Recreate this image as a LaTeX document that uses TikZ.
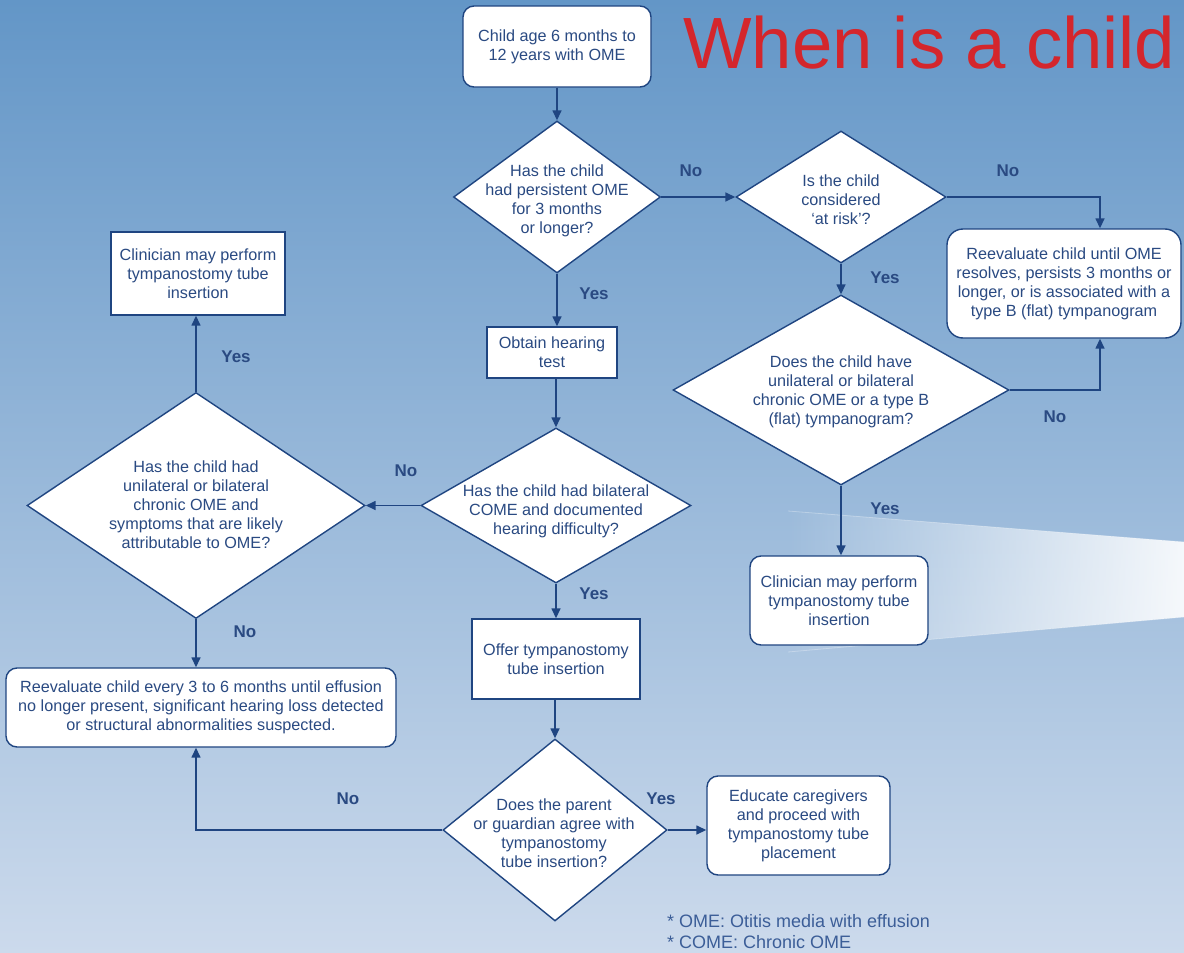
\documentclass[tikz,border=0pt]{standalone}
\usepackage{fontspec}
\setmainfont{Liberation Sans}
\usetikzlibrary{shapes.geometric,arrows.meta,fadings}
\definecolor{bgtop}{HTML}{6396C7}
\definecolor{bgbot}{HTML}{CCDAEC}
\definecolor{lc}{HTML}{1F4581}
\definecolor{tc}{HTML}{2A4A82}
\definecolor{fn}{HTML}{3C5E98}
\definecolor{ttl}{HTML}{D4262C}
\tikzfading[name=beamfade, left color=transparent!100, middle color=transparent!90, right color=transparent!10]
\begin{document}
\begin{tikzpicture}[x=1pt,y=-1pt,
  nodefont/.style={font=\fontsize{16.2}{19}\selectfont},
  boxst/.style={draw=lc, fill=white, line width=1.4pt, text=tc, align=center, inner sep=0pt, nodefont},
  rboxst/.style={boxst, rounded corners=11pt},
  diast/.style={diamond, draw=lc, fill=white, line width=1.4pt, inner sep=0pt},
  dtext/.style={text=tc, align=center, inner sep=0pt, nodefont},
  lbl/.style={text=tc, font=\fontsize{17}{17}\selectfont\bfseries, inner sep=0pt},
  arr/.style={draw=lc, line width=1.5pt, -{Triangle[length=10pt,width=9pt]}},
  ]
\useasboundingbox (0,0) rectangle (1184,953);
\shade[top color=bgtop, bottom color=bgbot] (0,0) rectangle (1184,953);
% light beam
\fill[white, path fading=beamfade] (788,511) -- (1184,542) -- (1184,617) -- (788,652) -- cycle;
\draw[white, opacity=0.3, line width=0.8pt] (788,511) -- (1184,542);
\draw[white, opacity=0.3, line width=0.8pt] (788,652) -- (1184,617);
% title
\node[anchor=base west, text=ttl, font=\fontsize{72.6}{72}\selectfont, inner sep=0pt] (title) at (683,68) {When is a child};

% nodes
\node[rboxst, minimum width=188pt, minimum height=81pt] (start) at (557,46.5) {Child age 6 months to\\12 years with OME};
\node[diast, minimum width=207pt, minimum height=152pt] (d1) at (557,197) {};
\node[dtext] (d1t) at (557,201) {Has the child\\had persistent OME\\for 3 months\\or longer?};
\node[diast, minimum width=210pt, minimum height=132pt] (d2) at (841,197) {};
\node[dtext] (d2t) at (841,200) {Is the child\\considered\\‘at risk’?};
\node[boxst, rounded corners=16pt, minimum width=234pt, minimum height=109pt] (r1) at (1064,283.5) {Reevaluate child until OME\\resolves, persists 3 months or\\longer, or is associated with a\\type B (flat) tympanogram};
\node[diast, minimum width=336pt, minimum height=190pt] (d3) at (841,390) {};
\node[dtext] (d3t) at (841,392) {Does the child have\\unilateral or bilateral\\chronic OME or a type B\\(flat) tympanogram?};
\node[rboxst, minimum width=178pt, minimum height=89pt] (r2) at (839,600.5) {Clinician may perform\\tympanostomy tube\\insertion};
\node[boxst, minimum width=130pt, minimum height=51pt] (hear) at (552,352.5) {Obtain hearing\\test};
\node[diast, minimum width=270pt, minimum height=155pt] (d4) at (556,505.5) {};
\node[dtext] (d4t) at (556,511) {Has the child had bilateral\\COME and documented\\hearing difficulty?};
\node[diast, minimum width=338pt, minimum height=226pt] (d5) at (196,505.5) {};
\node[dtext] (d5t) at (196,505) {Has the child had\\unilateral or bilateral\\chronic OME and\\symptoms that are likely\\attributable to OME?};
\node[boxst, minimum width=174pt, minimum height=83pt] (l1) at (198,273.5) {Clinician may perform\\tympanostomy tube\\insertion};
\node[rboxst, minimum width=390pt, minimum height=79pt] (l2) at (201,707.5) {Reevaluate child every 3 to 6 months until effusion\\no longer present, significant hearing loss detected\\or structural abnormalities suspected.};
\node[boxst, minimum width=168pt, minimum height=80pt] (offer) at (556,659) {Offer tympanostomy\\tube insertion};
\node[diast, minimum width=224pt, minimum height=182pt] (d6) at (555,830) {};
\node[dtext] (d6t) at (554,833) {Does the parent\\or guardian agree with\\tympanostomy\\tube insertion?};
\node[rboxst, minimum width=183pt, minimum height=99pt] (edu) at (798.5,825.5) {Educate caregivers\\and proceed with\\tympanostomy tube\\placement};

% connectors
\draw[arr] (start.south) -- (d1.north);
\draw[arr] (d1.east) -- (d1.east -| d2.west);
\draw[arr] (d2.east) -| (r1.north -| 1100,0);
\draw[arr] (d2.south) -- (d3.north);
\draw[arr] (d3.east) -| (r1.south -| 1100,0);
\draw[arr] (d3.south) -- (r2.north -| d3.south);
\draw[arr] (d1.south) -- (hear.north -| d1.south);
\draw[arr] (hear.south -| d4.north) -- (d4.north);
\draw[arr] (d4.west) -- (d4.west -| d5.east);
\draw[arr] (d5.north) -- (l1.south -| d5.north);
\draw[arr] (d5.south) -- (l2.north -| d5.south);
\draw[arr] (d4.south) -- (offer.north -| d4.south);
\draw[arr] (offer.south -| d6.north) -- (d6.north);
\draw[arr] (d6.east) -- (edu.west |- d6.east);
\draw[arr] (d6.west) -| (l2.south -| d5.south);

% labels
\node[lbl] (n1) at (691,171) {No};
\node[lbl] (n2) at (1008,171) {No};
\node[lbl] (y1) at (885,278) {Yes};
\node[lbl] (n3) at (1055,417) {No};
\node[lbl] (y2) at (885,509) {Yes};
\node[lbl] (y3) at (594,294) {Yes};
\node[lbl] (n4) at (406,471) {No};
\node[lbl] (y4) at (236,357) {Yes};
\node[lbl] (n5) at (245,632) {No};
\node[lbl] (y5) at (594,594) {Yes};
\node[lbl] (y6) at (661,799) {Yes};
\node[lbl] (n6) at (348,799) {No};

% footnote
\node[anchor=west, text=fn, align=left, font=\fontsize{18}{21}\selectfont, inner sep=0pt] (foot) at (667,931.5) {* OME: Otitis media with effusion\\* COME: Chronic OME};
\end{tikzpicture}
\end{document}
